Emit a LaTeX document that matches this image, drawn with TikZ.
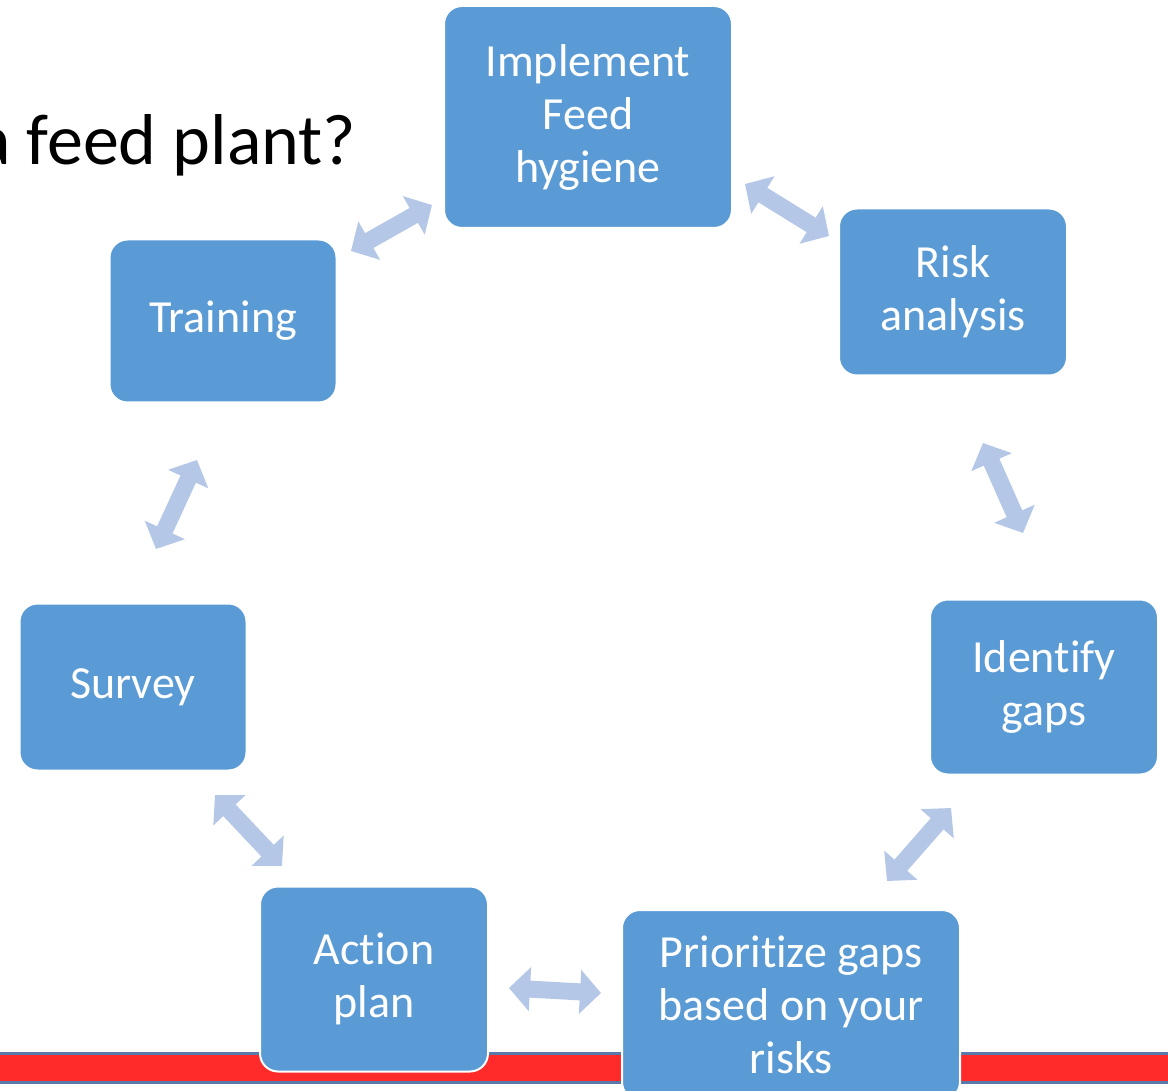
\documentclass[tikz,border=0pt]{standalone}
\usepackage{fontspec}
\setmainfont[Ligatures=NoCommon]{Carlito}
\usetikzlibrary{arrows.meta}
\definecolor{boxblue}{HTML}{5B9BD5}
\definecolor{arrblue}{HTML}{B4C7E7}
\definecolor{barred}{HTML}{FF2A2A}
\definecolor{barline}{HTML}{5A7BAA}
\tikzset{
  stage/.style={draw=white, line width=2pt, fill=boxblue, rounded corners=18pt,
    text=white, align=center, inner sep=0pt,
    font=\fontsize{46}{53}\selectfont},
  cyc/.style={draw=arrblue, line width=17pt,
    {Triangle[length=21pt,width=43pt]}-{Triangle[length=21pt,width=43pt]}},
}
\begin{document}
\begin{tikzpicture}[x=1pt,y=-1pt]
\useasboundingbox (0,0) rectangle (1168,1091);
\clip (0,0) rectangle (1168,1091);
\fill[white] (0,0) rectangle (1168,1091);
% bottom bar
\fill[barline] (0,1052) rectangle (1168,1055);
\fill[barred] (0,1055) rectangle (1168,1081);
\fill[barline] (0,1081) rectangle (1168,1084);
% title
\node[anchor=base west, inner sep=0pt, font=\fontsize{72}{80}\selectfont] (title) at (-24,165) {a feed plant?};
% stages
\node[stage, minimum width=288, minimum height=222] (impl) at (588,117) {Implement\\Feed\\hygiene};
\node[stage, minimum width=228, minimum height=167] (risk) at (953,292) {Risk\\analysis};
\node[stage, minimum width=228, minimum height=175] (gaps) at (1044,687) {Identify\\gaps};
\node[stage, minimum width=338, minimum height=190] (prio) at (791,1005) {Prioritize gaps\\based on your\\risks};
\node[stage, minimum width=228, minimum height=185] (act) at (374,979) {Action\\plan};
\node[stage, minimum width=227, minimum height=167] (surv) at (133,687) {Survey};
\node[stage, minimum width=227, minimum height=163] (train) at (223,321) {Training};
% connector end points
\coordinate (c1a) at (351,251); \coordinate (c1b) at (432,205);
\coordinate (c2a) at (745,184); \coordinate (c2b) at (829,236);
\coordinate (c3a) at (983,443); \coordinate (c3b) at (1023,533);
\coordinate (c4a) at (951,808); \coordinate (c4b) at (887,881);
\coordinate (c5a) at (601,993); \coordinate (c5b) at (509,988);
\coordinate (c6a) at (282,866); \coordinate (c6b) at (215,795);
\coordinate (c7a) at (156,549); \coordinate (c7b) at (197,460);
\draw[cyc] (c1a) -- (c1b);
\draw[cyc] (c2a) -- (c2b);
\draw[cyc] (c3a) -- (c3b);
\draw[cyc] (c4a) -- (c4b);
\draw[cyc] (c5a) -- (c5b);
\draw[cyc] (c6a) -- (c6b);
\draw[cyc] (c7a) -- (c7b);
\end{tikzpicture}
\end{document}
